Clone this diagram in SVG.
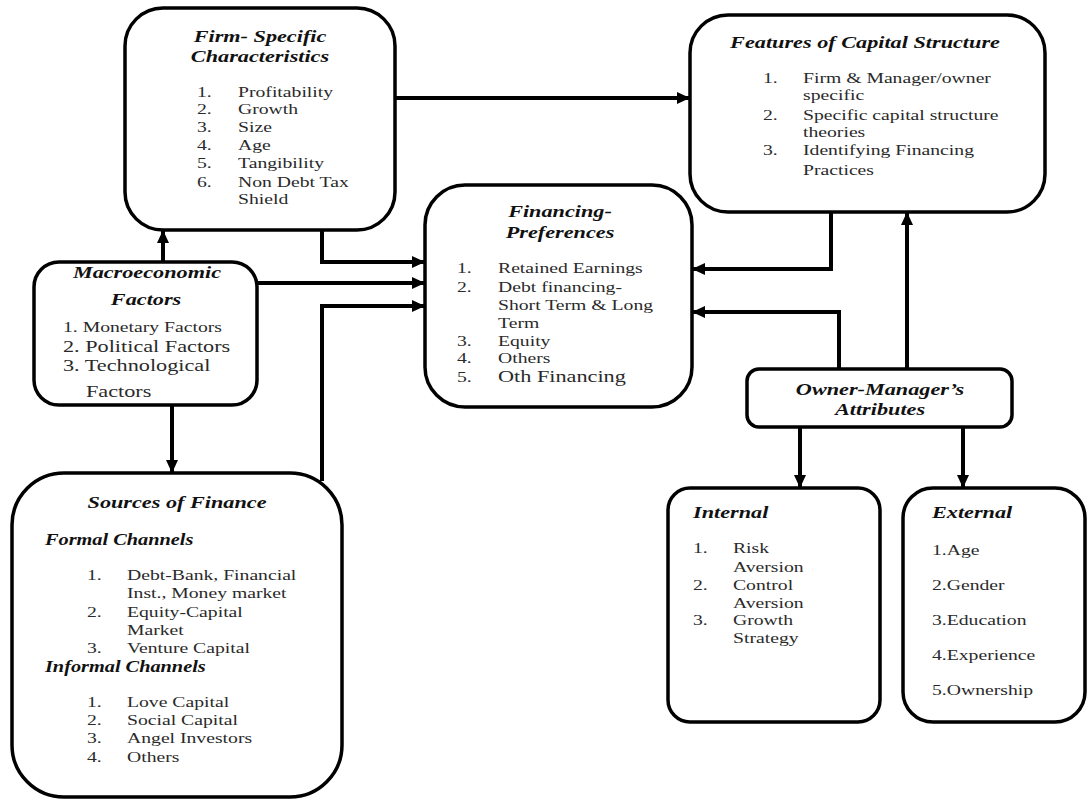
<svg xmlns="http://www.w3.org/2000/svg" width="1088" height="801" viewBox="0 0 1088 801">
<defs>
<marker id="ah" markerUnits="userSpaceOnUse" markerWidth="14" markerHeight="12" refX="13" refY="6" orient="auto">
<path d="M0,0 L13,6 L0,12 Z" fill="#000"/>
</marker>
<style>
.box{fill:#fff;stroke:#000;stroke-width:3.5}
.con{fill:none;stroke:#000;stroke-width:4;marker-end:url(#ah)}
text{font-family:"Liberation Serif","Times New Roman",serif}
.t{font-size:17.5px;font-weight:bold;font-style:italic;fill:#111}
.st{font-size:16px;font-weight:bold;font-style:italic;fill:#111}
.i{font-size:15.5px;fill:#2a2a2a}
.ib{font-size:17.5px;fill:#2a2a2a}
.m{text-anchor:middle}
</style>
</defs>
<rect width="1088" height="801" fill="#fff"/>

<g id="connectors">
<path class="con" d="M395,98 H690"/>
<path class="con" d="M163,262 V230"/>
<path class="con" d="M322,230 V262 H425"/>
<path class="con" d="M257,283 H425"/>
<path class="con" d="M322,481 V306 H425"/>
<path class="con" d="M172,405 V473"/>
<path class="con" d="M831,212 V269 H692"/>
<path class="con" d="M839,369 V312 H692"/>
<path class="con" d="M907,369 V212"/>
<path class="con" d="M800,427 V488"/>
<path class="con" d="M963,427 V488"/>
</g>

<g id="firm">
<rect class="box" x="125" y="8" width="270" height="222" rx="38"/>
<g transform="translate(197 0) scale(1.27 1)">
<text class="t m" x="49.6" y="42">Firm- Specific</text>
<text class="t m" x="49.6" y="62">Characteristics</text>
<text class="i" x="0" y="97">1.</text><text class="i" x="32.3" y="97">Profitability</text>
<text class="i" x="0" y="114">2.</text><text class="i" x="32.3" y="114">Growth</text>
<text class="i" x="0" y="132">3.</text><text class="i" x="32.3" y="132">Size</text>
<text class="i" x="0" y="150">4.</text><text class="i" x="32.3" y="150">Age</text>
<text class="i" x="0" y="168">5.</text><text class="i" x="32.3" y="168">Tangibility</text>
<text class="i" x="0" y="187">6.</text><text class="i" x="32.3" y="187">Non Debt Tax</text>
<text class="i" x="32.3" y="204">Shield</text>
</g>
</g>

<g id="features">
<rect class="box" x="690" y="15" width="355" height="197" rx="38"/>
<g transform="translate(763 0) scale(1.27 1)">
<text class="t m" x="80.3" y="48">Features of Capital Structure</text>
<text class="i" x="0" y="83">1.</text><text class="i" x="31.5" y="83">Firm &amp; Manager/owner</text>
<text class="i" x="31.5" y="100">specific</text>
<text class="i" x="0" y="120">2.</text><text class="i" x="31.5" y="120">Specific capital structure</text>
<text class="i" x="31.5" y="137">theories</text>
<text class="i" x="0" y="155">3.</text><text class="i" x="31.5" y="155">Identifying Financing</text>
<text class="i" x="31.5" y="175">Practices</text>
</g>
</g>

<g id="financing">
<rect class="box" x="425" y="185" width="267" height="222" rx="40"/>
<g transform="translate(457 0) scale(1.27 1)">
<text class="t m" x="81.1" y="217">Financing-</text>
<text class="t m" x="81.1" y="238">Preferences</text>
<text class="i" x="0" y="273">1.</text><text class="i" x="32.3" y="273">Retained Earnings</text>
<text class="i" x="0" y="292">2.</text><text class="i" x="32.3" y="292">Debt financing-</text>
<text class="i" x="32.3" y="310">Short Term &amp; Long</text>
<text class="i" x="32.3" y="328">Term</text>
<text class="i" x="0" y="346">3.</text><text class="i" x="32.3" y="346">Equity</text>
<text class="i" x="0" y="363">4.</text><text class="i" x="32.3" y="363">Others</text>
<text class="i" x="0" y="382">5.</text><text class="ib" x="32.3" y="382">Oth Financing</text>
</g>
</g>

<g id="macro">
<rect class="box" x="34" y="262" width="223" height="143" rx="25"/>
<g transform="translate(63 0) scale(1.27 1)">
<text class="t m" x="66.1" y="278">Macroeconomic</text>
<text class="t m" x="65.4" y="305">Factors</text>
<text class="i" x="0" y="332">1. Monetary Factors</text>
<text class="ib" x="0" y="352">2. Political Factors</text>
<text class="ib" x="0" y="371">3. Technological</text>
<text class="ib" x="18.1" y="397">Factors</text>
</g>
</g>

<g id="sources">
<rect class="box" x="12" y="473" width="330" height="324" rx="52"/>
<g transform="translate(87 0) scale(1.27 1)">
<text class="t m" x="70.9" y="508">Sources of Finance</text>
<text class="st" x="-33.1" y="545">Formal Channels</text>
<text class="i" x="0" y="580">1.</text><text class="i" x="31.5" y="580">Debt-Bank,  Financial</text>
<text class="i" x="31.5" y="598">Inst., Money market</text>
<text class="i" x="0" y="617">2.</text><text class="i" x="31.5" y="617">Equity-Capital</text>
<text class="i" x="31.5" y="635">Market</text>
<text class="i" x="0" y="653">3.</text><text class="i" x="31.5" y="653">Venture Capital</text>
<text class="st" x="-33.1" y="672">Informal Channels</text>
<text class="i" x="0" y="707">1.</text><text class="i" x="31.5" y="707">Love Capital</text>
<text class="i" x="0" y="725">2.</text><text class="i" x="31.5" y="725">Social Capital</text>
<text class="i" x="0" y="743">3.</text><text class="i" x="31.5" y="743">Angel Investors</text>
<text class="i" x="0" y="762">4.</text><text class="i" x="31.5" y="762">Others</text>
</g>
</g>

<g id="owner">
<rect class="box" x="747" y="369" width="265" height="58" rx="12"/>
<g transform="translate(880 0) scale(1.27 1)">
<text class="t m" x="0" y="395">Owner-Manager’s</text>
<text class="t m" x="0" y="415">Attributes</text>
</g>
</g>

<g id="internal">
<rect class="box" x="668" y="488" width="212" height="234" rx="22"/>
<g transform="translate(693 0) scale(1.27 1)">
<text class="t" x="0" y="518">Internal</text>
<text class="i" x="0" y="553">1.</text><text class="i" x="31.5" y="553">Risk</text>
<text class="i" x="31.5" y="572">Aversion</text>
<text class="i" x="0" y="590">2.</text><text class="i" x="31.5" y="590">Control</text>
<text class="i" x="31.5" y="608">Aversion</text>
<text class="i" x="0" y="625">3.</text><text class="i" x="31.5" y="625">Growth</text>
<text class="i" x="31.5" y="643">Strategy</text>
</g>
</g>

<g id="external">
<rect class="box" x="903" y="488" width="182" height="234" rx="30"/>
<g transform="translate(932 0) scale(1.27 1)">
<text class="t" x="0" y="518">External</text>
<text class="i" x="0" y="555">1.Age</text>
<text class="i" x="0" y="590">2.Gender</text>
<text class="i" x="0" y="625">3.Education</text>
<text class="i" x="0" y="660">4.Experience</text>
<text class="i" x="0" y="695">5.Ownership</text>
</g>
</g>
</svg>
